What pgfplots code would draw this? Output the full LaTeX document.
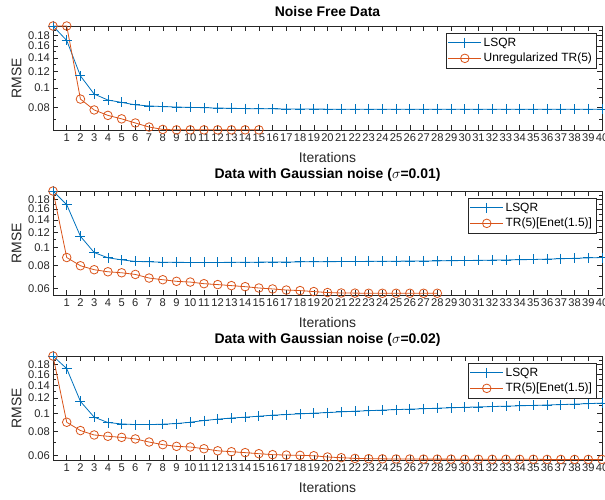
\documentclass[border=0pt]{standalone}
\usepackage{pgfplots}
\pgfplotsset{compat=1.18}
\usepackage{fontspec}
\setmainfont{Liberation Sans}
\definecolor{mblue}{rgb}{0,0.447,0.741}
\definecolor{morange}{rgb}{0.85,0.325,0.098}
\definecolor{axgray}{rgb}{0.15,0.15,0.15}
\tikzset{
  blueline/.style={mblue, line width=0.8pt, mark=+, mark size=5bp, mark options={line width=0.8pt}},
  orangeline/.style={morange, line width=0.8pt, mark=o, mark size=4.3bp, mark options={line width=0.8pt}},
}
\pgfplotsset{
  every axis/.append style={
    width=549bp, height=104bp, scale only axis,
    xmin=0, xmax=40, ymax=0.2,
    xtick={1,...,40},
    tick align=inside, xtick pos=both, ytick pos=both,
    major tick length=5bp, minor tick length=3bp,
    axis line style={axgray, line width=0.6pt},
    every tick/.style={axgray, line width=0.5pt},
    tick label style={font=\fontsize{11.2}{12}\selectfont, text=axgray},
    xticklabel style={inner sep=0pt, yshift=-4bp},
    yticklabel style={inner sep=0pt, xshift=-3bp},
    label style={font=\fontsize{14}{16}\selectfont, text=axgray},
    xlabel style={at={(0.5,0)}, anchor=north, yshift=-19bp},
    ylabel style={at={(0,0.5)}, anchor=south, yshift=28bp},
    title style={font=\bfseries\fontsize{14}{16}\selectfont, at={(0.5,1)}, anchor=south, yshift=0bp},
    legend style={at={(0.989,0.933)}, anchor=north east, font=\fontsize{12}{14}\selectfont,
      draw=axgray, line width=0.6pt, inner xsep=2bp, inner ysep=3bp, outer sep=0pt, row sep=1.5bp},
    legend cell align=left,
    legend image code/.code={%
      \draw[mark repeat=2,mark phase=2] plot coordinates {(0cm,0cm) (0.58cm,0cm) (1.16cm,0cm)};},
  }
}
\begin{document}
\begin{tikzpicture}
\path[use as bounding box] (0,0) rectangle (605bp,500bp);
% ---------- panel 1 ----------
\begin{axis}[at={(53bp,370bp)}, anchor=south west, ymode=log,
  /pgf/number format/assume math mode=true,
  xlabel={Iterations}, ylabel={RMSE},
  ymin=0.0623, title={Noise Free Data},
  ytick={0.08,0.1,0.12,0.14,0.16,0.18},
  yticklabels={0.08,0.1,0.12,0.14,0.16,0.18},
  minor ytick={0.07,0.09,0.11,0.13,0.15,0.17,0.19}]
\addplot[blueline] coordinates {
(0,0.200) (1,0.170) (2,0.1143) (3,0.0932) (4,0.0872) (5,0.0849) (6,0.0826) (7,0.0816)
(8,0.0810) (9,0.0806) (10,0.0803) (11,0.0800) (12,0.0797) (13,0.0795) (14,0.0792)
(15,0.0791) (16,0.0790) (17,0.0789) (18,0.0788) (19,0.0788) (20,0.0787) (21,0.0787)
(22,0.0787) (23,0.0787) (24,0.0787) (25,0.0786) (26,0.0786) (27,0.0786) (28,0.0786)
(29,0.0786) (30,0.0786) (31,0.0786) (32,0.0786) (33,0.0786) (34,0.0786) (35,0.0786)
(36,0.0786) (37,0.0786) (38,0.0786) (39,0.0786) (40,0.0786)};
\addlegendentry{LSQR}
\addplot[orangeline] coordinates {
(0,0.200) (1,0.200) (2,0.0881) (3,0.0780) (4,0.0734) (5,0.0706) (6,0.0674) (7,0.0644)
(8,0.0627) (9,0.0624) (10,0.0624) (11,0.0624) (12,0.0624) (13,0.0624) (14,0.0624) (15,0.0624)};
\addlegendentry{Unregularized TR(5)}
\end{axis}
% ---------- panel 2 ----------
\begin{axis}[at={(53bp,205bp)}, anchor=south west, ymode=log,
  /pgf/number format/assume math mode=true,
  xlabel={Iterations}, ylabel={RMSE},
  ymin=0.0555, title={Data with Gaussian noise ($\sigma$=0.01)},
  ytick={0.06,0.08,0.1,0.12,0.14,0.16,0.18},
  yticklabels={0.06,0.08,0.1,0.12,0.14,0.16,0.18},
  minor ytick={0.07,0.09,0.11,0.13,0.15,0.17,0.19}]
\addplot[blueline] coordinates {
(0,0.200) (1,0.169) (2,0.1144) (3,0.0937) (4,0.0878) (5,0.0856) (6,0.0839) (7,0.0836)
(8,0.0831) (9,0.0830) (10,0.0829) (11,0.0829) (12,0.0829) (13,0.0830) (14,0.0831)
(15,0.0832) (16,0.0833) (17,0.0834) (18,0.0835) (19,0.0836) (20,0.0837) (21,0.0838)
(22,0.0839) (23,0.0840) (24,0.0841) (25,0.0842) (26,0.0843) (27,0.0844) (28,0.0845)
(29,0.0847) (30,0.0849) (31,0.0851) (32,0.0853) (33,0.0855) (34,0.0857) (35,0.0860)
(36,0.0864) (37,0.0868) (38,0.0872) (39,0.0877) (40,0.0881)};
\addlegendentry{LSQR}
\addplot[orangeline] coordinates {
(0,0.200) (1,0.0881) (2,0.0796) (3,0.0758) (4,0.0739) (5,0.0730) (6,0.0715) (7,0.0684)
(8,0.0670) (9,0.0657) (10,0.0651) (11,0.0638) (12,0.0631) (13,0.0623) (14,0.0615)
(15,0.0605) (16,0.0598) (17,0.0590) (18,0.0586) (19,0.0579) (20,0.0572) (21,0.0569)
(22,0.0568) (23,0.0567) (24,0.0567) (25,0.0567) (26,0.0567) (27,0.0567) (28,0.0567)};
\addlegendentry{TR(5)[Enet(1.5)]}
\end{axis}
% ---------- panel 3 ----------
\begin{axis}[at={(53bp,40bp)}, anchor=south west, ymode=log,
  /pgf/number format/assume math mode=true,
  xlabel={Iterations}, ylabel={RMSE},
  ymin=0.0567, title={Data with Gaussian noise ($\sigma$=0.02)},
  ytick={0.06,0.08,0.1,0.12,0.14,0.16,0.18},
  yticklabels={0.06,0.08,0.1,0.12,0.14,0.16,0.18},
  minor ytick={0.07,0.09,0.11,0.13,0.15,0.17,0.19}]
\addplot[blueline] coordinates {
(0,0.200) (1,0.1716) (2,0.1153) (3,0.0953) (4,0.0893) (5,0.0878) (6,0.0871) (7,0.0871)
(8,0.0875) (9,0.0882) (10,0.0896) (11,0.0915) (12,0.0930) (13,0.0943) (14,0.0953)
(15,0.0964) (16,0.0976) (17,0.0984) (18,0.0992) (19,0.1000) (20,0.1008) (21,0.1016)
(22,0.1024) (23,0.1031) (24,0.1038) (25,0.1045) (26,0.1050) (27,0.1056) (28,0.1062)
(29,0.1068) (30,0.1074) (31,0.1079) (32,0.1084) (33,0.1089) (34,0.1094) (35,0.1099)
(36,0.1104) (37,0.1110) (38,0.1116) (39,0.1123) (40,0.1130)};
\addlegendentry{LSQR}
\addplot[orangeline] coordinates {
(0,0.200) (1,0.0896) (2,0.0810) (3,0.0768) (4,0.0756) (5,0.0746) (6,0.0732) (7,0.0705)
(8,0.0683) (9,0.0669) (10,0.0664) (11,0.0650) (12,0.0634) (13,0.0627) (14,0.0620)
(15,0.0612) (16,0.0605) (17,0.0602) (18,0.0600) (19,0.0597) (20,0.0588) (21,0.0583)
(22,0.0578) (23,0.0576) (24,0.0575) (25,0.0574) (26,0.0574) (27,0.0573) (28,0.0573)
(29,0.0573) (30,0.0572) (31,0.0572) (32,0.0572) (33,0.0572) (34,0.0572) (35,0.0572)
(36,0.0571) (37,0.0571) (38,0.0571) (39,0.0571) (40,0.0571)};
\addlegendentry{TR(5)[Enet(1.5)]}
\end{axis}
\end{tikzpicture}
\end{document}
